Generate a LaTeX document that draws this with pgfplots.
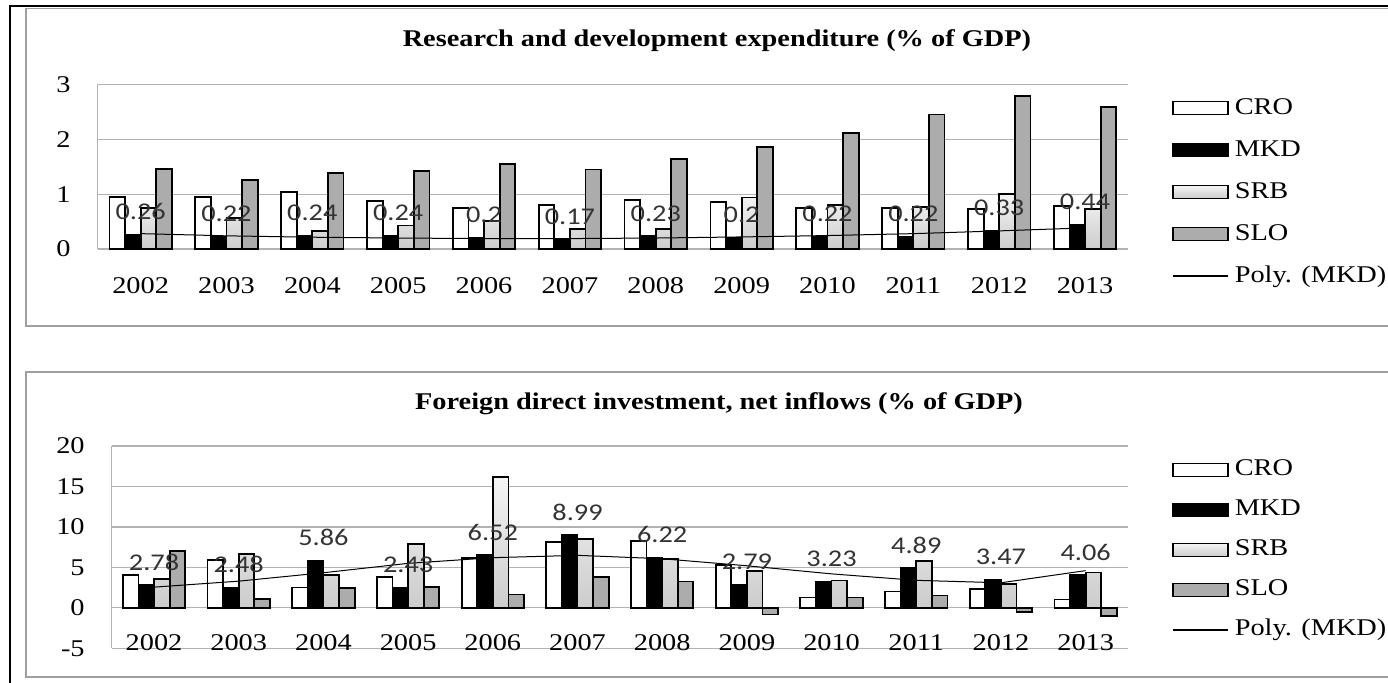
\documentclass[border=0pt]{standalone}
\usepackage{pgfplots}
\usepackage{pgfplotstable}
\pgfplotsset{compat=1.18}
\usepackage{graphicx}
\usepackage{fontspec}
\setmainfont{Liberation Serif}
\newfontfamily\labfont{Carlito}
\newcommand{\hs}[1]{\scalebox{1.18}[1]{#1}}

\pgfplotstableread{
x cro mkd srb slo trend
0  0.95 0.26 0.74 1.46 0.28
1  0.95 0.22 0.56 1.25 0.24
2  1.04 0.24 0.33 1.38 0.215
3  0.87 0.24 0.43 1.42 0.20
4  0.74 0.20 0.51 1.55 0.19
5  0.80 0.17 0.36 1.45 0.19
6  0.89 0.23 0.36 1.64 0.20
7  0.85 0.20 0.94 1.86 0.22
8  0.74 0.22 0.80 2.11 0.245
9  0.75 0.22 0.77 2.45 0.28
10 0.73 0.33 1.00 2.79 0.33
11 0.79 0.44 0.73 2.58 0.385
}\rdtable

\pgfplotstableread{
x cro mkd srb slo trend
0  4.09 2.78 3.55  7.02 2.56
1  5.95 2.48 6.61  1.07 3.30
2  2.52 5.86 4.09  2.44 4.34
3  3.80 2.43 7.85  2.56 5.50
4  6.20 6.52 16.20 1.65 6.20
5  8.14 8.99 8.51  3.80 6.49
6  8.31 6.22 6.03  3.26 6.07
7  5.25 2.79 4.55 -0.83 5.20
8  1.28 3.23 3.39  1.28 4.20
9  2.02 4.89 5.79  1.53 3.40
10 2.36 3.47 2.98 -0.54 3.10
11 1.03 4.06 4.38 -0.99 4.60
}\fditable

\pgfplotsset{
  barbase/.style={ybar, bar width=7.8pt, draw=black, line width=0.9pt, area legend,
    legend image code/.code={\draw[##1, line width=0.9pt] (0pt,-3.25pt) rectangle (27.5pt,3.25pt);}},
  cro/.style={barbase, fill=white, bar shift=-11.7pt},
  mkd/.style={barbase, fill=black, bar shift=-3.9pt},
  srb/.style={barbase, top color=gray!8, bottom color=gray!40, bar shift=3.9pt},
  slo/.style={barbase, fill=gray!65, bar shift=11.7pt},
  trend/.style={black, line width=0.5pt, sharp plot, no marks,
    legend image code/.code={\draw[black, line width=0.6pt] (0pt,0pt) -- (27.5pt,0pt);}},
  mylabels/.style={nodes near coords={\hs{\pgfmathprintnumber[assume math mode=true]{\pgfplotspointmeta}}},
    point meta=y,
    every node near coord/.append style={font=\labfont\fontsize{12}{14}\selectfont, text=black!80, anchor=center, yshift=11.5pt, inner sep=0pt}},
  common/.style={
    scale only axis,
    axis lines*=left,
    axis line style={gray!60, line width=0.6pt},
    ymajorgrids, major grid style={gray!60, line width=0.6pt},
    tick style={draw=none},
    xmin=-0.5, xmax=11.5,
    xtick={0,...,11},
    xticklabels={\hs{2002},\hs{2003},\hs{2004},\hs{2005},\hs{2006},\hs{2007},\hs{2008},\hs{2009},\hs{2010},\hs{2011},\hs{2012},\hs{2013}},
    ticklabel style={font=\fontsize{12}{14}\selectfont},
    yticklabel style={anchor=east, inner sep=0pt, xshift=-13.35pt},
    legend style={draw=none, fill=none, inner sep=0pt, outer sep=0pt, anchor=north west,
      nodes={inner sep=0pt, font=\fontsize{12}{14}\selectfont, text height=9pt, text depth=3pt}, column sep=3pt},
    legend cell align=left,
    title style={font=\bfseries\fontsize{12}{14}\selectfont, anchor=center, yshift=-6pt},
  }
}

\begin{document}
\begin{tikzpicture}
\useasboundingbox (0pt,0pt) rectangle (694pt,-341pt);
\clip (0pt,0pt) rectangle (694pt,-341pt);
\fill[white] (0pt,0pt) rectangle (694pt,-341pt);
% chart frames
\draw[gray!75, line width=0.75pt] (13pt,-4.15pt) rectangle (704pt,-163pt);
\draw[gray!75, line width=0.75pt] (13pt,-186pt) rectangle (704pt,-338.5pt);
\draw[black, line width=1.25pt] (5pt,-345pt) -- (5pt,-3pt) -- (700pt,-3pt);

\begin{axis}[common,
  at={(48.85pt,-124.5pt)}, anchor=south west,
  width=515.15pt, height=82.35pt,
  ymin=0, ymax=3, ytick={0,1,2,3},
  yticklabels={\hs{0},\hs{1},\hs{2},\hs{3}},
  xticklabel style={anchor=center, yshift=-18.5pt},
  title={\hs{Research and development expenditure (\% of GDP)}},
  title style={at={(axis description cs:0.601,1.263)}},
  legend style={at={(axis description cs:1.0427,0.929)}, row sep=9pt},
]
\addplot[cro] table[x=x, y=cro] {\rdtable};
\addplot[mkd, mylabels] table[x=x, y=mkd] {\rdtable};
\addplot[srb] table[x=x, y=srb] {\rdtable};
\addplot[slo] table[x=x, y=slo] {\rdtable};
\addplot[trend] table[x=x, y=trend] {\rdtable};
\legend{\hs{CRO},\hs{MKD},\hs{SRB},\hs{SLO},\hs{Poly. (MKD)}}
\end{axis}

\begin{axis}[common,
  at={(55.85pt,-324.15pt)}, anchor=south west,
  width=508.15pt, height=101.15pt,
  ymin=-5, ymax=20, ytick={-5,0,5,10,15,20},
  yticklabels={\hs{-5},\hs{0},\hs{5},\hs{10},\hs{15},\hs{20}},
  xticklabel style={anchor=center, yshift=2.65pt},
  title={\hs{Foreign direct investment, net inflows (\% of GDP)}},
  title style={at={(axis description cs:0.5976,1.2076)}},
  legend style={at={(axis description cs:1.0433,0.941)}, row sep=8pt},
]
\addplot[cro] table[x=x, y=cro] {\fditable};
\addplot[mkd, mylabels] table[x=x, y=mkd] {\fditable};
\addplot[srb] table[x=x, y=srb] {\fditable};
\addplot[slo] table[x=x, y=slo] {\fditable};
\addplot[trend] table[x=x, y=trend] {\fditable};
\legend{\hs{CRO},\hs{MKD},\hs{SRB},\hs{SLO},\hs{Poly. (MKD)}}
\end{axis}
\end{tikzpicture}
\end{document}
